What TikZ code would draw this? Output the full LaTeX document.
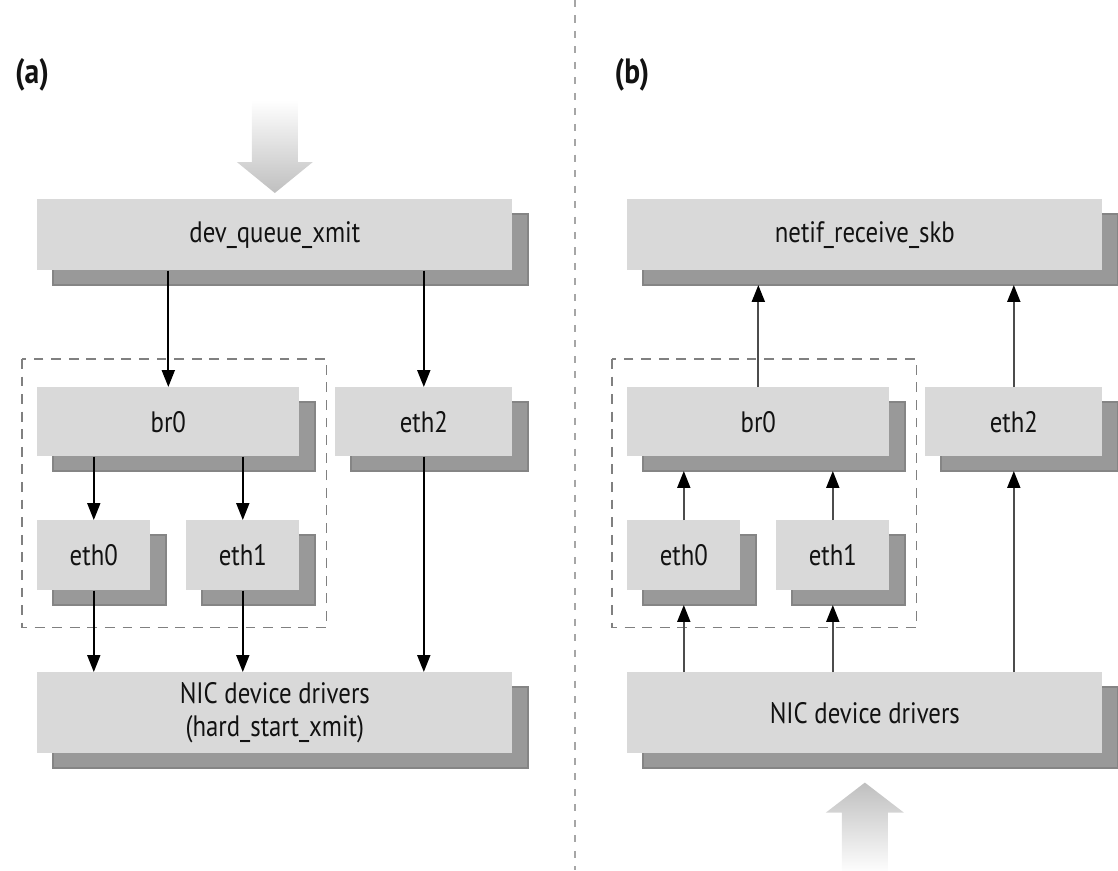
\documentclass[tikz,border=0pt]{standalone}
\usepackage{fontspec}
\setmainfont{PT Sans}[FakeStretch=0.84]
\usepackage{tikz}
\usetikzlibrary{arrows.meta,calc,positioning,shadows}
\definecolor{boxgray}{rgb}{0.85,0.85,0.85}
\definecolor{shadowgray}{rgb}{0.6,0.6,0.6}
\definecolor{shadowedge}{rgb}{0.52,0.52,0.52}
\definecolor{inkgray}{rgb}{0.07,0.07,0.07}
\tikzset{
  bloque/.style={
    anchor=north west,
    fill=boxgray,
    align=center,
    inner sep=2pt,
    text=inkgray,
    font=\fontsize{21}{24}\selectfont,
    general shadow={shadow xshift=.4cm,shadow yshift=-.36cm,
      fill=shadowgray,draw=shadowedge,line width=1.5pt}
  },
  grupo/.style={
    draw=black!50,
    line width=.9pt,
    dash pattern=on 7pt off 5.5pt
  },
  divisor/.style={
    draw=black!35,
    line width=.9pt,
    dash pattern=on 5pt off 6pt
  },
  rotulo/.style={
    text=inkgray,
    font=\fontsize{25}{28}\selectfont\bfseries
  },
  arrow/.style={
    -{Triangle[length=.42cm,width=.32cm]},
    line width=1.5pt,
    black
  },
  arrowup/.style={
    -{Triangle[length=.42cm,width=.32cm,color=black]},
    line width=1.5pt,
    black!70,
    shorten >=.36cm
  }
}
\begin{document}
\begin{tikzpicture}[x=.025cm,y=-.025cm]
\useasboundingbox (0,0) rectangle (1118,870);
\draw[divisor] (575,0) -- (575,870);
\node[rotulo] (lbla) at (32,75) {(a)};
\node[rotulo] (lblb) at (632,75) {(b)};

% (a) sending side
\node[bloque,minimum width=11.875cm,minimum height=1.775cm] (dev) at (37,199) {dev\_queue\_xmit};
\node[bloque,minimum width=6.55cm,minimum height=1.725cm] (bra) at (37,387) {br0};
\node[bloque,minimum width=4.425cm,minimum height=1.725cm] (eth2a) at (335,387) {eth2};
\node[bloque,minimum width=2.825cm,minimum height=1.75cm] (eth0a) at (37,520) {eth0};
\node[bloque,minimum width=2.825cm,minimum height=1.75cm] (eth1a) at (186,520) {eth1};
\node[bloque,minimum width=11.875cm,minimum height=2.025cm] (nica) at (37,672) {NIC device drivers\\(hard\_start\_xmit)};
\draw[grupo] ($(bra.north west)+(-15,-28)$) rectangle ($(eth1a.south east)+(27,37)$);
\begin{scope}[shift={(dev.north)}]
\shade[top color=white,bottom color=gray!50] (-23,-99) -- (23,-99) -- (23,-37) -- (38,-37) -- (0,-6) -- (-38,-37) -- (-23,-37) -- cycle;
\end{scope}
\draw[arrow] (dev.south -| bra.north) -- (bra.north);
\draw[arrow] (dev.south -| eth2a.north) -- (eth2a.north);
\draw[arrow] (bra.south -| eth0a.north) -- (eth0a.north);
\draw[arrow] (bra.south -| eth1a.north) -- (eth1a.north);
\draw[arrow] (eth0a.south) -- (nica.north -| eth0a.south);
\draw[arrow] (eth1a.south) -- (nica.north -| eth1a.south);
\draw[arrow] (eth2a.south) -- (nica.north -| eth2a.south);

% (b) receiving side
\node[bloque,minimum width=11.875cm,minimum height=1.775cm] (netif) at (627,199) {netif\_receive\_skb};
\node[bloque,minimum width=6.55cm,minimum height=1.725cm] (brb) at (627,387) {br0};
\node[bloque,minimum width=4.425cm,minimum height=1.725cm] (eth2b) at (925,387) {eth2};
\node[bloque,minimum width=2.825cm,minimum height=1.75cm] (eth0b) at (627,520) {eth0};
\node[bloque,minimum width=2.825cm,minimum height=1.75cm] (eth1b) at (776,520) {eth1};
\node[bloque,minimum width=11.875cm,minimum height=2.025cm] (nicb) at (627,672) {NIC device drivers};
\draw[grupo] ($(brb.north west)+(-15,-28)$) rectangle ($(eth1b.south east)+(27,37)$);
\begin{scope}[shift={(nicb.south)}]
\shade[top color=gray!50,bottom color=white] (0,29) -- (39,59) -- (23,59) -- (23,120) -- (-23,120) -- (-23,59) -- (-39,59) -- cycle;
\end{scope}
\draw[arrowup] (brb.north) -- (netif.south -| brb.north);
\draw[arrowup] (eth2b.north) -- (netif.south -| eth2b.north);
\draw[arrowup] (eth0b.north) -- (brb.south -| eth0b.north);
\draw[arrowup] (eth1b.north) -- (brb.south -| eth1b.north);
\draw[arrowup] (nicb.north -| eth0b.south) -- (eth0b.south);
\draw[arrowup] (nicb.north -| eth1b.south) -- (eth1b.south);
\draw[arrowup] (nicb.north -| eth2b.south) -- (eth2b.south);
\end{tikzpicture}
\end{document}
